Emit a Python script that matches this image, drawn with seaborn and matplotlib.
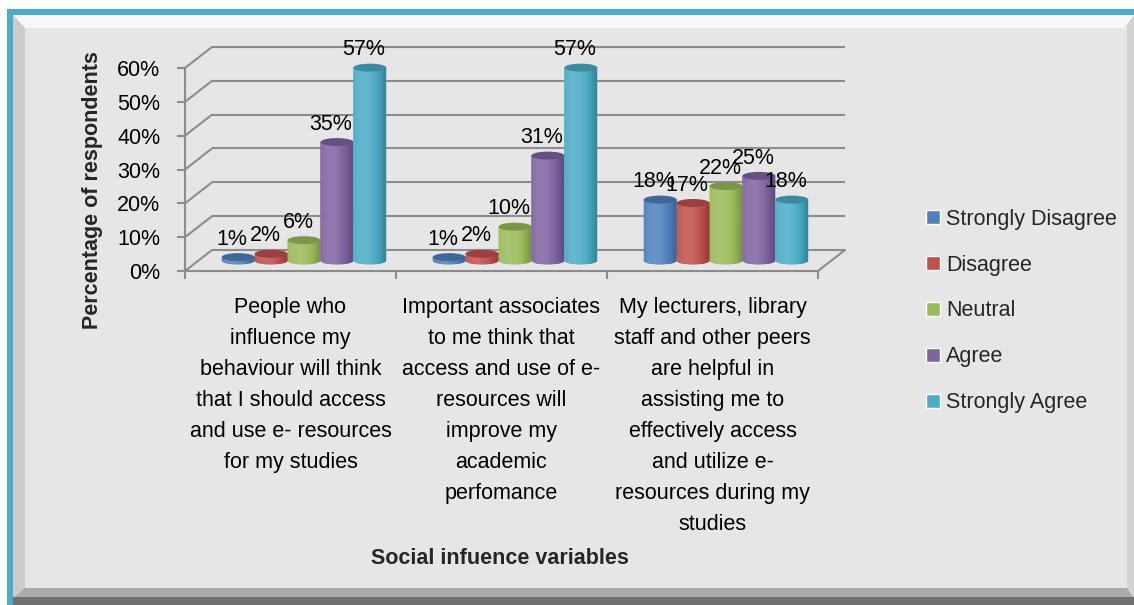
import numpy as np
import pandas as pd
import matplotlib
matplotlib.use("Agg")
import matplotlib.pyplot as plt
import matplotlib.colors as mcolors
import seaborn as sns
from matplotlib.patches import Ellipse, Polygon
from matplotlib.lines import Line2D
from matplotlib.transforms import IdentityTransform
from matplotlib.ticker import PercentFormatter

# ---- data -------------------------------------------------------------
categories = [
    "People who\ninfluence my\nbehaviour will think\nthat I should access\nand use e- resources\nfor my studies",
    "Important associates\nto me think that\naccess and use of e-\nresources will\nimprove my\nacademic\nperfomance",
    "My lecturers, library\nstaff and other peers\nare helpful in\nassisting me to\neffectively access\nand utilize e-\nresources during my\nstudies",
]
responses = ["Strongly Disagree", "Disagree", "Neutral", "Agree", "Strongly Agree"]
strongly_disagree = [1, 1, 18]
disagree = [2, 2, 17]
neutral = [6, 10, 22]
agree = [35, 31, 25]
strongly_agree = [57, 57, 18]
palette = ["#4F81BD", "#C0504D", "#9BBB59", "#8064A2", "#4BACC6"]
y_ticks = [0, 10, 20, 30, 40, 50, 60]

df = pd.DataFrame({
    "variable": categories * len(responses),
    "response": np.repeat(responses, len(categories)),
    "percent": strongly_disagree + disagree + neutral + agree + strongly_agree,
})

# ---- style ------------------------------------------------------------
sns.set_theme(style="white")
plt.rcParams["font.family"] = ["Liberation Sans", "DejaVu Sans"]
FS = 15.5
GRID = "#8c8c8c"

W, H = 1134, 605
fig = plt.figure(figsize=(W / 100, H / 100), dpi=100, facecolor="white")


def px(x, y):
    return (x, H - y)


def frame_poly(points, color, z=-10):
    fig.add_artist(Polygon([px(*p) for p in points], closed=True, facecolor=color,
                           edgecolor="none", transform=IdentityTransform(), zorder=z))


# bevelled chart-area frame with a teal outline
frame_poly([(13, 15), (1134, 15), (1134, 605), (13, 605)], "#E6E6E6")
frame_poly([(13, 15), (1134, 15), (1124, 28), (25, 28)], "#F7F7F7")
frame_poly([(13, 15), (25, 28), (25, 588), (13, 598)], "#CBCBCB")
frame_poly([(1134, 15), (1134, 598), (1127, 588), (1127, 25)], "#D2D2D2")
frame_poly([(13, 598), (25, 588), (1127, 588), (1134, 598)], "#ABABAB")
frame_poly([(13, 597), (1134, 597), (1134, 605), (13, 605)], "#707070")
frame_poly([(7, 9), (1134, 9), (1134, 15), (7, 15)], "#4BACC6")
frame_poly([(7, 9), (13, 9), (13, 605), (7, 605)], "#4BACC6")

# ---- three planes: back wall, front axis, bars in between ---------------
PW, PH = 633, 203          # plot width / height in pixels (0..60 %)
DX, DY = 27, 21            # depth offset of the back wall
FX, FY = 185, 271          # front-left origin (pixels from top-left)
unit_px = PH / 60
cap = 8 / unit_px          # cylinder cap height in data units
low = 4                    # room below zero for the rounded bottoms


def rect(left, base, lo=0):
    return [left / W, (H - base - lo * unit_px) / H, PW / W, (PH + lo * unit_px) / H]


ax_back = fig.add_axes(rect(FX + DX, FY - DY), zorder=1)
ax_front = fig.add_axes(rect(FX, FY), zorder=2)
ax = fig.add_axes(rect(FX + DX / 2, FY - DY / 2, low), zorder=3)
for a in (ax_back, ax_front, ax):
    a.set_facecolor("none")
    a.set_xlim(-0.5, 2.5)
    a.set_ylim(0, 60)

# back wall gridlines
ax_back.hlines(y_ticks, -0.5, 2.5, color=GRID, lw=1.5, clip_on=False)
ax_back.set_axis_off()

# front axis with ticks and labels
for s in ("top", "right"):
    ax_front.spines[s].set_visible(False)
for s in ("left", "bottom"):
    ax_front.spines[s].set_color(GRID)
    ax_front.spines[s].set_linewidth(1.5)
ax_front.set_yticks(y_ticks)
ax_front.yaxis.set_major_formatter(PercentFormatter(decimals=0))
ax_front.tick_params(axis="y", left=True, direction="out", length=5.8, width=1.5,
                     color=GRID, labelsize=FS, pad=12, labelcolor="black")
ax_front.set_xticks([-0.5, 0.5, 1.5, 2.5], labels=[])
ax_front.set_xticks(range(len(categories)), labels=categories, minor=True)
ax_front.tick_params(axis="x", which="major", bottom=True, direction="out", length=5.8,
                     width=1.5, color=GRID)
ax_front.tick_params(axis="x", which="minor", bottom=True, length=0, pad=19,
                     labelsize=FS, labelcolor="black")
for lab in ax_front.get_xticklabels(minor=True):
    lab.set_linespacing(1.62)

# side-wall and floor edges joining front and back planes
for v in y_ticks:
    p0 = ax_front.transData.transform((-0.5, v))
    p1 = ax_back.transData.transform((-0.5, v))
    fig.add_artist(Line2D([p0[0], p1[0]], [p0[1], p1[1]], transform=IdentityTransform(),
                          color=GRID, lw=1.5, zorder=1.5))
p0 = ax_front.transData.transform((2.5, 0))
p1 = ax_back.transData.transform((2.5, 0))
fig.add_artist(Line2D([p0[0], p1[0]], [p0[1], p1[1]], transform=IdentityTransform(),
                      color=GRID, lw=1.5, zorder=1.5))

# ---- bars ---------------------------------------------------------------
sns.barplot(data=df, x="variable", y="percent", hue="response", order=categories,
            hue_order=responses, palette=palette, saturation=1, width=0.78, ax=ax)
sns.move_legend(ax, "center left", bbox_to_anchor=(926 / W, 1 - 311 / H),
                bbox_transform=fig.transFigure, frameon=False, title=None, fontsize=FS,
                handlelength=0.65, handleheight=0.65, handletextpad=0.28,
                labelspacing=1.16, borderpad=0, borderaxespad=0)

# horizontal light/dark profile of a cylinder
t = np.linspace(0, 1, 96)
shade = 0.74 + 0.40 * np.cos((t - 0.32) * np.pi / 1.4)


def shaded(rgb):
    rgb = np.asarray(rgb)[None, :]
    f = shade[:, None]
    out = np.where(f > 1, rgb + (1 - rgb) * (f - 1), rgb * f)
    return np.clip(out, 0, 1)[None, :, :]


ang = np.linspace(np.pi, 2 * np.pi, 60)
for container, color in zip(ax.containers, palette):
    base = np.array(mcolors.to_rgb(color))
    strip = shaded(base)
    for bar in container:
        x0, w, v = bar.get_x(), bar.get_width(), bar.get_height()
        cx = x0 + w / 2
        outline = ([(x0, v)] + list(zip(cx + w / 2 * np.cos(ang), cap / 2 * np.sin(ang)))
                   + [(x0 + w, v)])
        body = Polygon(outline, closed=True, facecolor=color, edgecolor="none", zorder=3)
        ax.add_patch(body)
        img = ax.imshow(strip, extent=(x0, x0 + w, -cap / 2, v), aspect="auto",
                        interpolation="bilinear", zorder=3.1)
        img.set_clip_path(body)
        ax.add_patch(Ellipse((cx, v), w, cap, facecolor=base * 0.8, edgecolor="none",
                             zorder=3.2))
        bar.set_visible(False)
        ax.annotate(f"{v:.0f}%", (cx, v), xytext=(-4.3, 12.8), textcoords="offset points",
                    ha="center", va="center", fontsize=FS, color="black", zorder=4)

ax.set_xlim(-0.5, 2.5)
ax.set_ylim(-low, 60)
ax.set_axis_off()

# ---- axis titles ----------------------------------------------------------
fig.text(93 / W, 1 - 190 / H, "Percentage of respondents", rotation=90, ha="center",
         va="center", fontsize=FS, fontweight="bold")
fig.text(500 / W, 1 - 558 / H, "Social infuence variables", ha="center", va="center",
         fontsize=FS, fontweight="bold")

fig.savefig("out.png", dpi=100)
